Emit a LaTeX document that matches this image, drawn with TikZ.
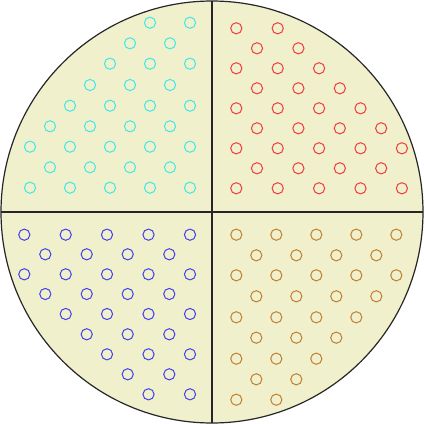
\documentclass[tikz,border=0pt]{standalone}
\begin{document}
\begin{tikzpicture}[x=1pt,y=-1pt,
  hole/.style={circle,draw,line width=1pt,minimum size=11.2pt,inner sep=0pt},
  divider/.style={line width=1.5pt,draw=black!85}]
\definecolor{bg}{HTML}{F0F0CC}
\definecolor{qcyan}{HTML}{40E8E8}
\definecolor{qred}{HTML}{F03C3C}
\definecolor{qblue}{HTML}{4040EE}
\definecolor{qbrown}{HTML}{C08030}
\useasboundingbox (0,0) rectangle (424,424);
\node[circle,draw=black!85,line width=1.2pt,fill=bg,minimum size=422pt,inner sep=0pt] (disk) at (212,212) {};
\coordinate (top) at (212,1);
\coordinate (bot) at (212,423);
\coordinate (lft) at (1,212);
\coordinate (rgt) at (423,212);
\draw[divider] (top) -- (bot);
\draw[divider] (lft) -- (rgt);
% top-left (cyan)
\foreach \x/\y [count=\i] in {150/22.7,190/22.7,
  130/43.3,170/43.3,
  110/63.7,150/63.7,190/63.7,
  90/85,130/85,170/85,
  70/105.7,110/105.7,150/105.7,190/105.7,
  50/126.3,90/126.3,130/126.3,170/126.3,
  30/146.7,70/146.7,110/146.7,150/146.7,190/146.7,
  50/167.3,90/167.3,130/167.3,170/167.3,
  30/187.7,70/187.7,110/187.7,150/187.7,190/187.7}
  \node[hole,draw=qcyan] (tl\i) at (\x,\y) {};
% top-right (red)
\foreach \x/\y [count=\i] in {236.3/28.3,277.7/28.3,
  257/48.3,298.4/48.3,
  236.3/68.3,277.7/68.3,319.1/68.3,
  257/88.3,298.4/88.3,339.8/88.3,
  236.3/108.3,277.7/108.3,319.1/108.3,360.5/108.3,
  257/128.3,298.4/128.3,339.8/128.3,381.2/128.3,
  236.3/148.3,277.7/148.3,319.1/148.3,360.5/148.3,401.9/148.3,
  257/168.3,298.4/168.3,339.8/168.3,381.2/168.3,
  236.3/188.3,277.7/188.3,319.1/188.3,360.5/188.3,401.9/188.3}
  \node[hole,draw=qred] (tr\i) at (\x,\y) {};
% bottom-left (blue)
\foreach \x/\y [count=\i] in {24.3/234.7,65.7/234.7,107/234.7,148.5/234.7,190/234.7,
  45.3/254.3,86.7/254.3,127.7/254.3,169.3/254.3,
  24.3/274.3,65.7/274.3,107/274.3,148.5/274.3,190/274.3,
  45.3/294,86.7/294,127.7/294,169.3/294,
  65.7/314,107/314,148.5/314,190/314,
  86.7/334.3,127.7/334.3,169.3/334.3,
  107/354.3,148.5/354.3,190/354.3,
  127.7/374.3,169.3/374.3,
  148.5/394.3,190/394.3}
  \node[hole,draw=qblue] (bl\i) at (\x,\y) {};
% bottom-right (brown)
\foreach \x/\y [count=\i] in {236.3/234.7,276.3/234.7,316.3/234.7,356.3/234.7,396.3/234.7,
  256.3/255.3,296.3/255.3,336.3/255.3,376.3/255.3,
  236.3/275.3,276.3/275.3,316.3/275.3,356.3/275.3,396.3/275.3,
  256.3/296.3,296.3/296.3,336.3/296.3,376.3/296.3,
  236.3/317.3,276.3/317.3,316.3/317.3,356.3/317.3,
  256.3/337.7,296.3/337.7,336.3/337.7,
  236.3/358.7,276.3/358.7,316.3/358.7,
  256.3/379.3,296.3/379.3,
  236.3/399.7,276.3/399.7}
  \node[hole,draw=qbrown] (br\i) at (\x,\y) {};
\end{tikzpicture}
\end{document}
